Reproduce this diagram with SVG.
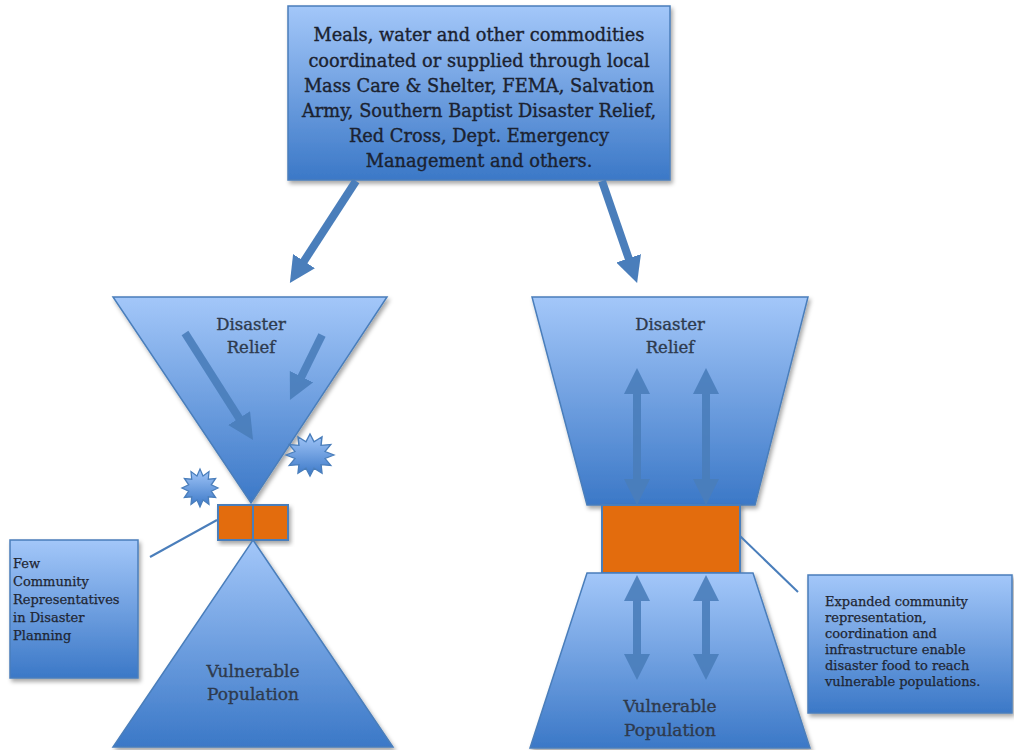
<svg xmlns="http://www.w3.org/2000/svg" width="1014" height="750" viewBox="0 0 1014 750">
<defs>
<linearGradient id="g" x1="0" y1="0" x2="0" y2="1">
<stop offset="0" stop-color="#a3c7f9"/>
<stop offset="1" stop-color="#3b78c7"/>
</linearGradient>
<filter id="sh" x="-20%" y="-20%" width="140%" height="140%">
<feDropShadow dx="2" dy="3" stdDeviation="2" flood-color="#000" flood-opacity="0.35"/>
</filter>
<marker id="ah" viewBox="0 0 20 20" refX="2" refY="10" markerWidth="26" markerHeight="26" markerUnits="userSpaceOnUse" orient="auto-start-reverse">
<path d="M0,0 L20,10 L0,20 z" fill="#4a7ebb"/>
</marker>
<polygon id="star" points="1,0 0.628,0.168 0.866,0.5 0.46,0.46 0.5,0.866 0.168,0.628 0,1 -0.168,0.628 -0.5,0.866 -0.46,0.46 -0.866,0.5 -0.628,0.168 -1,0 -0.628,-0.168 -0.866,-0.5 -0.46,-0.46 -0.5,-0.866 -0.168,-0.628 0,-1 0.168,-0.628 0.5,-0.866 0.46,-0.46 0.866,-0.5 0.628,-0.168"/>
</defs>
<style>
.shape{fill:url(#g);stroke:#4a7ebb;stroke-width:1.5;filter:url(#sh)}
.org{fill:#e36c0a;stroke:#4a7ebb;stroke-width:2;filter:url(#sh)}
.arr{stroke:#4a7ebb;stroke-width:8;fill:none;marker-end:url(#ah)}
.dbl{stroke:#4a7ebb;stroke-width:8;fill:none;marker-end:url(#ah);marker-start:url(#ah)}
.ln{stroke:#4a7ebb;stroke-width:2;fill:none}
.t{font-family:"DejaVu Serif","Liberation Serif",serif;fill:#1b2230;stroke:#1b2230;stroke-width:0.35;text-anchor:middle}
.big{font-size:17.8px}
.lab{font-size:16.5px;fill:#2e3a4d;stroke:#2e3a4d}
.vp{font-size:17px;fill:#2e3a4d;stroke:#2e3a4d}
.small{font-size:13px;fill:#1f2633;stroke:#1f2633;stroke-width:0.25;font-family:"DejaVu Serif","Liberation Serif",serif}
</style>

<g id="top-box">
<rect class="shape" x="288" y="6" width="382" height="174"/>
<text class="t big" x="479" y="41">Meals, water and other commodities</text>
<text class="t big" x="479" y="67">coordinated or supplied through local</text>
<text class="t big" x="479" y="92">Mass Care &amp; Shelter, FEMA, Salvation</text>
<text class="t big" x="479" y="117">Army, Southern Baptist Disaster Relief,</text>
<text class="t big" x="479" y="142">Red Cross, Dept. Emergency</text>
<text class="t big" x="479" y="167">Management and others.</text>
</g>

<g id="left-funnel">
<polygon class="shape" points="113,297 387,297 251,503"/>
<text class="t lab" x="251" y="330">Disaster</text>
<text class="t lab" x="251" y="353">Relief</text>
</g>

<g id="left-bottleneck">
<rect class="org" x="218" y="505" width="35" height="35"/>
<rect class="org" x="253" y="505" width="35" height="35"/>
</g>

<g id="left-population">
<polygon class="shape" points="253,540 393,747 113,747"/>
<text class="t vp" x="253" y="677">Vulnerable</text>
<text class="t vp" x="253" y="700">Population</text>
</g>

<g id="starbursts">
<use href="#star" transform="translate(310,455) scale(24,21)" fill="url(#g)" stroke="#4a7ebb" stroke-width="0.06"/>
<use href="#star" transform="translate(200,488) scale(18,19)" fill="url(#g)" stroke="#4a7ebb" stroke-width="0.07"/>
</g>

<g id="left-callout">
<rect class="shape" x="10" y="540" width="128" height="138"/>
<text class="small" x="13" y="568">Few</text>
<text class="small" x="13" y="586">Community</text>
<text class="small" x="13" y="604">Representatives</text>
<text class="small" x="13" y="622">in Disaster</text>
<text class="small" x="13" y="640">Planning</text>
</g>

<g id="right-funnel">
<polygon class="shape" points="532,297 808,297 755,505 587,505"/>
<text class="t lab" x="670" y="330">Disaster</text>
<text class="t lab" x="670" y="353">Relief</text>
</g>

<g id="right-bottleneck">
<rect class="org" x="602" y="505" width="138" height="68"/>
</g>

<g id="right-population">
<polygon class="shape" points="587,573 753,573 810,748 530,748"/>
<text class="t vp" x="670" y="712">Vulnerable</text>
<text class="t vp" x="670" y="736">Population</text>
</g>

<g id="right-callout">
<rect class="shape" x="808" y="575" width="204" height="138"/>
<text class="small" x="825" y="606">Expanded community</text>
<text class="small" x="825" y="622">representation,</text>
<text class="small" x="825" y="638">coordination and</text>
<text class="small" x="825" y="654">infrastructure enable</text>
<text class="small" x="825" y="670">disaster food to reach</text>
<text class="small" x="825" y="686">vulnerable populations.</text>
</g>

<g id="connectors">
<line class="arr" x1="356" y1="181" x2="302.6" y2="263.3"/>
<line class="arr" x1="602" y1="181" x2="629.5" y2="260.8"/>
<line class="arr" x1="185" y1="333" x2="240.5" y2="420.3" opacity="0.9"/>
<line class="arr" x1="322" y1="335" x2="300.3" y2="379" opacity="0.9"/>
<line class="dbl" x1="637" y1="391.4" x2="637" y2="481.6" opacity="0.9"/>
<line class="dbl" x1="706" y1="391.4" x2="706" y2="481.6" opacity="0.9"/>
<line class="dbl" x1="637" y1="598.4" x2="637" y2="656.6" opacity="0.9"/>
<line class="dbl" x1="706" y1="598.4" x2="706" y2="656.6" opacity="0.9"/>
<line class="ln" x1="150" y1="557" x2="217" y2="520"/>
<line class="ln" x1="740" y1="536" x2="798" y2="592"/>
</g>
</svg>
